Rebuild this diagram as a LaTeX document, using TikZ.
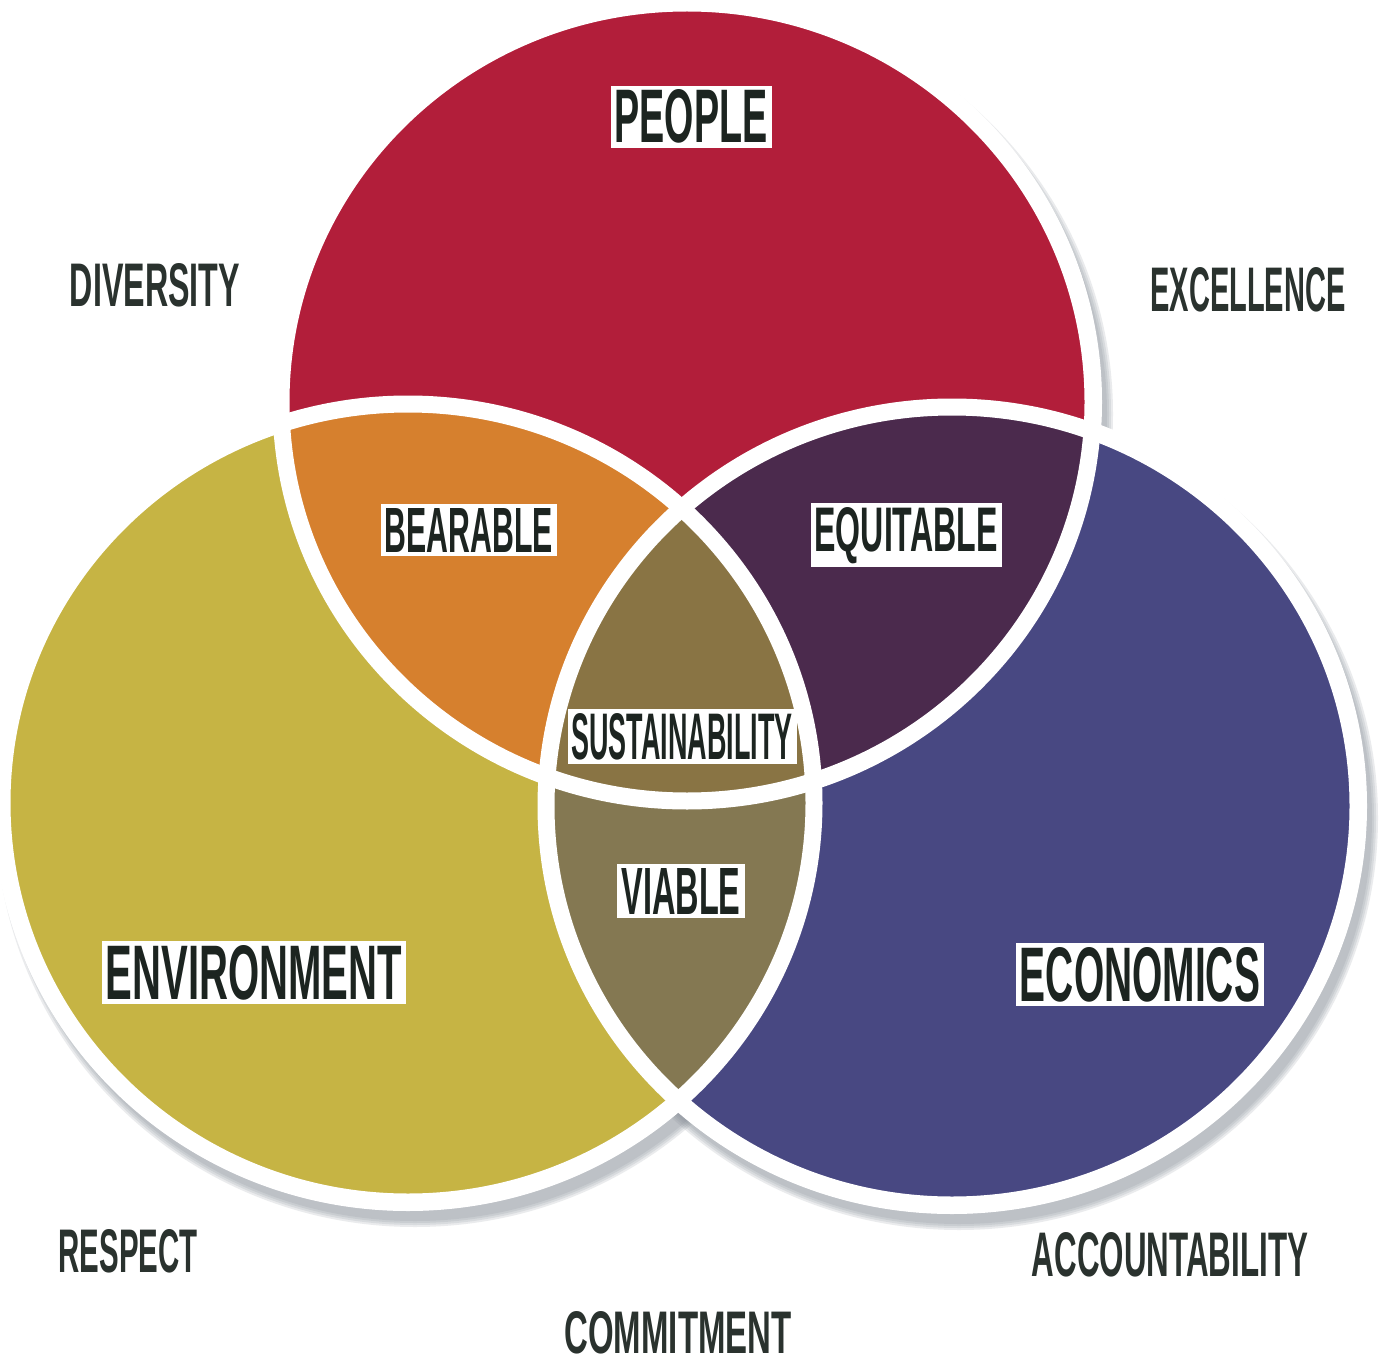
\documentclass[tikz,border=0pt]{standalone}
\usepackage{fontspec}
\setmainfont{Liberation Sans}
\usepackage{graphicx}
\usetikzlibrary{calc}
\definecolor{cred}{HTML}{B21E3A}
\definecolor{cyel}{HTML}{C6B444}
\definecolor{cblue}{HTML}{484882}
\definecolor{corange}{HTML}{D6802E}
\definecolor{cpurp}{HTML}{4B2A4D}
\definecolor{csust}{HTML}{897444}
\definecolor{cviab}{HTML}{847852}
\definecolor{cshadow}{HTML}{7F8890}
\definecolor{ctxtin}{HTML}{1C2420}
\definecolor{ctxtout}{HTML}{2A322E}
\newcommand{\lbl}[3]{\resizebox{#1pt}{#2pt}{\bfseries #3}}
\newcommand{\venn}[1]{(#1) ellipse [x radius=406pt, y radius=399pt]}
\newcommand{\vennw}[1]{(#1) ellipse [x radius=415pt, y radius=408pt]}
\newcommand{\vennsh}[2]{($(#1)+(7,12)$) ellipse [x radius={413pt+#2pt}, y radius={406pt+#2pt}]}
\tikzset{
  inlbl/.style={fill=white, inner sep=4pt, text=ctxtin, anchor=base},
  outlbl/.style={inner sep=0pt, text=ctxtout, anchor=base},
  sep/.style={draw=white, line width=17pt}
}
\begin{document}
\begin{tikzpicture}[x=1pt,y=-1pt]
\useasboundingbox (0,0) rectangle (1384,1364);
\fill[white] (0,0) rectangle (1384,1364);
\coordinate (cT) at (687,402);
\coordinate (cL) at (408,803);
\coordinate (cR) at (952,806);
% shadows
\foreach \c in {cT,cL,cR}{
  \foreach \e in {6,4,2,0}{
    \fill[cshadow, fill opacity=0.16] \vennsh{\c}{\e};
  }
}
% white discs
\fill[white] \vennw{cT};
\fill[white] \vennw{cL};
\fill[white] \vennw{cR};
% coloured regions
\fill[cred] \venn{cT};
\fill[cyel] \venn{cL};
\fill[cblue] \venn{cR};
\begin{scope}\clip \venn{cL}; \fill[cviab] \venn{cR};\end{scope}
\begin{scope}\clip \venn{cT}; \fill[corange] \venn{cL};\end{scope}
\begin{scope}\clip \venn{cT}; \fill[cpurp] \venn{cR};\end{scope}
\begin{scope}\clip \venn{cT}; \clip \venn{cL}; \fill[csust] \venn{cR};\end{scope}
% white separators
\draw[sep] \venn{cT};
\draw[sep] \venn{cL};
\draw[sep] \venn{cR};
% inner labels
\node[inlbl] (people) at (691,143) {\lbl{153}{53}{PEOPLE}};
\node[inlbl] (bear) at (469,552) {\lbl{168}{44}{BEARABLE}};
\node[inlbl] (equi) at (906,551) {\lbl{183}{44}{EQUITABLE}};
\node[inlbl] (sust) at (682,759) {\lbl{221}{46}{SUSTAINABILITY}};
\node[inlbl] (viab) at (681,914) {\lbl{119}{46}{VIABLE}};
\node[inlbl] (env) at (254,999) {\lbl{296}{54}{ENVIRONMENT}};
\node[inlbl] (eco) at (1140,1001) {\lbl{240}{54}{ECONOMICS}};
% outer labels
\node[outlbl] (div) at (155,307) {\lbl{170}{43}{DIVERSITY}};
\node[outlbl] (exc) at (1248,311) {\lbl{195}{44}{EXCELLENCE}};
\node[outlbl] (res) at (128,1272) {\lbl{139}{43}{RESPECT}};
\node[outlbl] (acc) at (1170,1276) {\lbl{276}{44}{ACCOUNTABILITY}};
\node[outlbl] (com) at (678,1353) {\lbl{227}{42}{COMMITMENT}};
\end{tikzpicture}
\end{document}
